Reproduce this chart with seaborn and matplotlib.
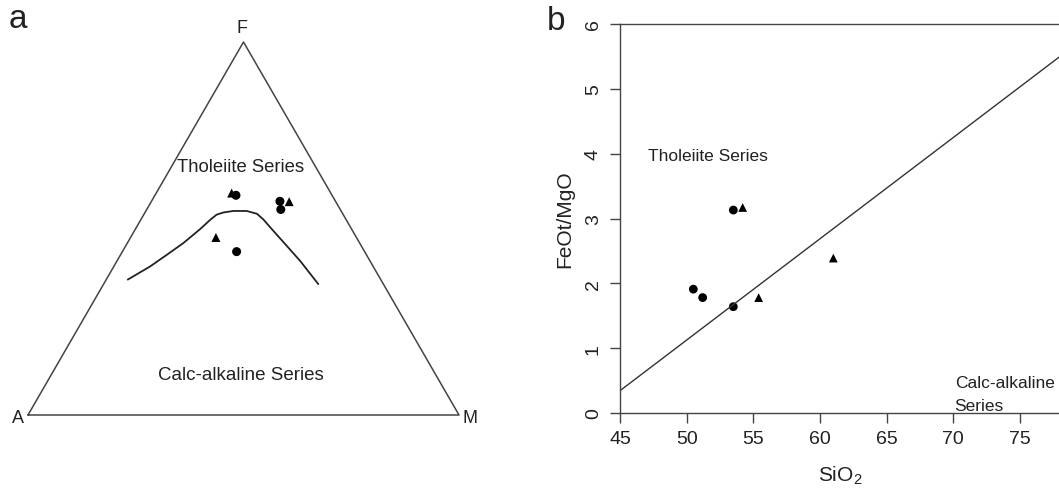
import numpy as np
import pandas as pd
import seaborn as sns
import matplotlib.pyplot as plt

# --- panel a: AFM ternary data (percent) ---
afm_group = ["tri", "dot", "dot", "tri", "dot", "tri", "dot"]
afm_A = [23.0, 22.3, 12.9, 10.8, 13.8, 32.6, 29.7]
afm_F = [59.5, 58.9, 57.3, 57.2, 55.1, 47.6, 43.8]
afm_M = [17.5, 18.8, 29.8, 32.0, 31.1, 19.8, 26.5]

# tholeiite / calc-alkaline boundary (A, F, M percent)
bound_A = [58.7, 51.8, 46.4, 40.9, 35.2, 31.6, 29.4, 27.5, 25.0, 21.9, 19.9, 19.2, 18.4, 17.3, 16.2, 15.1]
bound_F = [36.3, 39.8, 42.9, 46.1, 49.8, 52.3, 53.7, 54.3, 54.7, 54.7, 53.9, 52.5, 49.4, 45.4, 41.3, 35.1]
bound_M = [5.0, 8.4, 10.7, 13.0, 15.0, 16.1, 16.9, 18.2, 20.3, 23.4, 26.1, 28.3, 32.2, 37.3, 42.5, 49.8]

# --- panel b: FeOt/MgO vs SiO2 ---
sio2 = [53.5, 50.5, 51.2, 53.5, 54.2, 55.4, 61.0]
feo_mgo = [3.13, 1.91, 1.78, 1.64, 3.17, 1.78, 2.39]
b_group = ["dot", "dot", "dot", "dot", "tri", "tri", "tri"]

# Miyashiro (1974) dividing line
line_sio2 = [45, 78]
line_ratio = [0.344, 5.50]

SQ = np.sqrt(3) / 2


def tern(a, f, m):
    a, f, m = np.asarray(a), np.asarray(f), np.asarray(m)
    tot = a + f + m
    return (m + f / 2) / tot, f * SQ / tot


sns.set_style("ticks")
plt.rcParams['font.family'] = ['Liberation Sans', 'DejaVu Sans']
plt.rcParams['mathtext.fontset'] = 'custom'
plt.rcParams['mathtext.rm'] = 'Liberation Sans'

ink = "#222222"
markers = {"dot": "o", "tri": "^"}

fig = plt.figure(figsize=(10.59, 4.89), dpi=100)

# ---------------- panel a ----------------
ax1 = fig.add_axes([28 / 1059, 73 / 489, 431 / 1059, 373 / 489])
ax1.set_xlim(0, 1)
ax1.set_ylim(0, SQ)
ax1.axis("off")

tx, ty = tern([100, 0, 0, 100], [0, 0, 100, 0], [0, 100, 0, 0])
ax1.plot(tx, ty, color="#444444", lw=1.1, clip_on=False)

bx, by = tern(bound_A, bound_F, bound_M)
ax1.plot(bx, by, color=ink, lw=1.3)

px, py = tern(afm_A, afm_F, afm_M)
df_a = pd.DataFrame({"x": px, "y": py, "g": afm_group})
sns.scatterplot(data=df_a, x="x", y="y", style="g", markers=markers,
                color="black", s=42, edgecolor="none", legend=False, ax=ax1)

ax1.text(0.494, 0.578, "Tholeiite Series", ha="center", va="center", fontsize=13.3, color=ink)
ax1.text(0.494, 0.093, "Calc-alkaline Series", ha="center", va="center", fontsize=13.5, color=ink)
ax1.text(0.4965, 0.9, "F", ha="center", va="center", fontsize=13, color=ink, clip_on=False)
ax1.text(-0.024, -0.005, "A", ha="center", va="center", fontsize=13, color=ink, clip_on=False)
ax1.text(1.026, -0.005, "M", ha="center", va="center", fontsize=13, color=ink, clip_on=False)
fig.text(18 / 1059, 1 - 20 / 489, "a", ha="center", va="center", fontsize=24, color=ink)

# ---------------- panel b ----------------
ax2 = fig.add_axes([620 / 1059, 75 / 489, 440 / 1059, 389 / 489])
sns.lineplot(x=line_sio2, y=line_ratio, color="#333333", lw=1.0, ax=ax2)
df_b = pd.DataFrame({"sio2": sio2, "ratio": feo_mgo, "g": b_group})
sns.scatterplot(data=df_b, x="sio2", y="ratio", style="g", markers=markers,
                color="black", s=40, edgecolor="none", legend=False, ax=ax2)

ax2.set_xlim(45, 78)
ax2.set_ylim(0, 6)
ax2.set_xticks([45, 50, 55, 60, 65, 70, 75])
ax2.set_yticks([0, 1, 2, 3, 4, 5, 6])
for s in ["left", "bottom", "top"]:
    ax2.spines[s].set_color("#444444")
    ax2.spines[s].set_linewidth(1.0)
ax2.spines["right"].set_visible(False)
ax2.tick_params(axis="both", direction="out", length=7, width=1.0,
                color="#444444", labelcolor=ink)
ax2.tick_params(axis="x", pad=5, labelsize=14)
ax2.tick_params(axis="y", pad=6, labelsize=14)
for lbl in ax2.get_yticklabels():
    lbl.set_rotation(90)
    lbl.set_va("center")
    lbl.set_ha("right")

ax2.set_xlabel(r"SiO$_2$", fontsize=15, color=ink)
ax2.set_ylabel("FeOt/MgO", fontsize=15, color=ink)
ax2.xaxis.label.set_va("center")
ax2.yaxis.label.set_va("center")
ax2.xaxis.set_label_coords(0.5, -(476 - 414) / 389)
ax2.yaxis.set_label_coords((565 - 620) / 440, 0.5)

ax2.text(47.1, 3.97, "Tholeiite Series", ha="left", va="center", fontsize=12.5, color=ink)
ax2.text(70.1, 0.478, "Calc-alkaline", ha="left", va="center", fontsize=12.5, color=ink)
ax2.text(70.1, 0.108, "Series", ha="left", va="center", fontsize=12.5, color=ink)
fig.text(556 / 1059, 1 - 22 / 489, "b", ha="center", va="center", fontsize=24, color=ink)

fig.savefig("out.png", dpi=100)
